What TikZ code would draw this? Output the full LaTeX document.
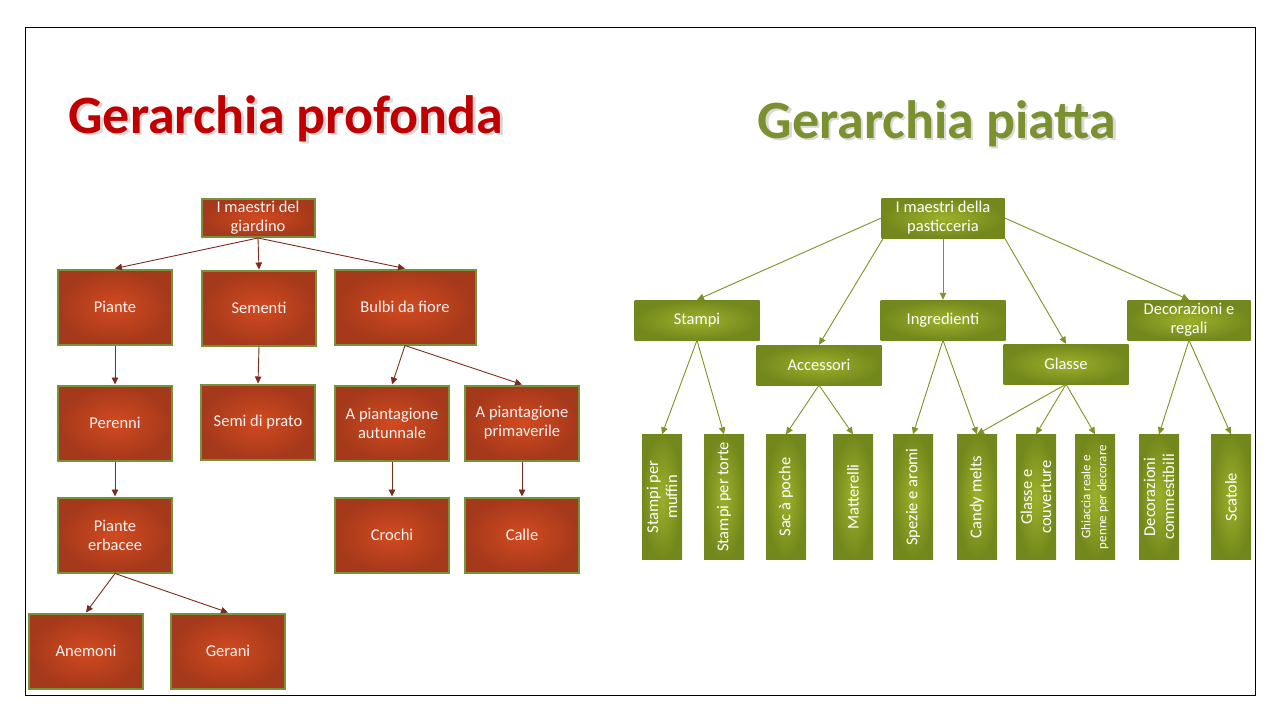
\documentclass[tikz,border=0pt]{standalone}
\usepackage{fontspec}
\setmainfont{Carlito}
\usetikzlibrary{arrows.meta}
\definecolor{redC}{HTML}{D24A20}
\definecolor{redE}{HTML}{A5391B}
\definecolor{olivB}{HTML}{76923C}
\definecolor{grnC}{HTML}{9DB02B}
\definecolor{grnE}{HTML}{73881C}
\definecolor{redL}{HTML}{7B2C1C}
\definecolor{grnL}{HTML}{7F9226}
\definecolor{titleR}{HTML}{C00000}
\definecolor{titleG}{HTML}{7B9130}
\begin{document}
\begin{tikzpicture}[x=1pt,y=-1pt,
 rbox/.style={draw=olivB, line width=2pt, inner color=redC, outer color=redE, text=white!95!black, minimum width=114pt, minimum height=75pt, inner sep=1pt, align=center, font=\fontsize{16.5}{19}\selectfont},
 gbox/.style={inner color=grnC, outer color=grnE, text=white, minimum width=125pt, minimum height=40pt, inner sep=1pt, align=center, font=\fontsize{16.5}{19}\selectfont},
 leaf/.style={gbox, rotate=90, minimum width=125pt, minimum height=40pt},
 rarr/.style={draw=redL, line width=0.9pt, -{Triangle[length=7pt,width=6.5pt]}},
 garr/.style={draw=grnL, line width=0.9pt, -{Triangle[length=7pt,width=6.5pt]}},
 ttl/.style={anchor=base, font=\fontsize{54}{60}\selectfont\bfseries, inner sep=0pt},
]
\useasboundingbox (0,0) rectangle (1280,720);
\fill[white] (0,0) rectangle (1280,720);
\draw[line width=1pt] (25,27) rectangle (1255,695);

% titles
\node[ttl, text=black!15] (t1s) at (288.5,135.5) {Gerarchia profonda};
\node[ttl, text=titleR] (t1) at (286,133) {Gerarchia profonda};
\node[ttl, text=black!15] (t2s) at (939.5,140.5) {Gerarchia piatta};
\node[ttl, text=titleG] (t2) at (937,138) {Gerarchia piatta};

% left tree
\node[rbox, minimum width=113pt, minimum height=38pt] (lroot) at (258,218) {I maestri del\\giardino};
\node[rbox] (piante) at (115,307) {Piante};
\node[rbox] (sementi) at (259,308) {Sementi};
\node[rbox, minimum width=141pt] (bulbi) at (405,307) {Bulbi da fiore};
\node[rbox] (perenni) at (115,423) {Perenni};
\node[rbox] (semi) at (258,422) {Semi di prato};
\node[rbox] (aut) at (392,423) {A piantagione\\autunnale};
\node[rbox] (prim) at (522,423) {A piantagione\\primaverile};
\node[rbox] (erb) at (115,535) {Piante\\erbacee};
\node[rbox] (crochi) at (392,535) {Crochi};
\node[rbox] (calle) at (522,535) {Calle};
\node[rbox] (anem) at (86,651) {Anemoni};
\node[rbox] (gerani) at (228,651) {Gerani};

\draw[rarr] (lroot.south) -- (piante.north);
\draw[rarr] (lroot.south) -- (sementi.north);
\draw[rarr] (lroot.south) -- (bulbi.north);
\draw[rarr] (piante.south) -- (perenni.north);
\draw[rarr] (sementi.south) -- (semi.north);
\draw[rarr] (bulbi.south) -- (aut.north);
\draw[rarr] (bulbi.south) -- (prim.north);
\draw[rarr] (perenni.south) -- (erb.north);
\draw[rarr] (aut.south) -- (crochi.north);
\draw[rarr] (prim.south) -- (calle.north);
\draw[rarr] (erb.south) -- (anem.north);
\draw[rarr] (erb.south) -- (gerani.north);

% right tree
\node[gbox, minimum width=123pt] (rroot) at (943,218) {I maestri della\\pasticceria};
\node[gbox] (stampi) at (697,320) {Stampi};
\node[gbox] (acc) at (819,365) {Accessori};
\node[gbox] (ingr) at (943,320) {Ingredienti};
\node[gbox] (glasse) at (1066,364) {Glasse};
\node[gbox, minimum width=123pt] (deco) at (1189,320) {Decorazioni e\\regali};

\node[leaf] (l1) at (662,497) {Stampi per\\muffin};
\node[leaf] (l2) at (724,497) {Stampi per torte};
\node[leaf] (l3) at (786,497) {Sac à poche};
\node[leaf] (l4) at (853,497) {Matterelli};
\node[leaf] (l5) at (913,497) {Spezie e aromi};
\node[leaf] (l6) at (977,497) {Candy melts};
\node[leaf] (l7) at (1036,497) {Glasse e\\couverture};
\node[leaf, font=\fontsize{13}{16}\selectfont] (l8) at (1095,497) {Ghiaccia reale e\\penne per decorare};
\node[leaf] (l9) at (1159,497) {Decorazioni\\commestibili};
\node[leaf] (l10) at (1231,497) {Scatole};

\draw[garr] (rroot.west) -- (stampi.north);
\draw[garr] ([xshift=2pt]rroot.south west) -- (acc.north);
\draw[garr] (rroot.south) -- (ingr.north);
\draw[garr] (rroot.south east) -- (glasse.north);
\draw[garr] (rroot.east) -- (deco.north);

\draw[garr] (stampi.south) -- (l1.east);
\draw[garr] (stampi.south) -- (l2.east);
\draw[garr] (acc.south) -- (l3.east);
\draw[garr] (acc.south) -- (l4.east);
\draw[garr] (ingr.south) -- (l5.east);
\draw[garr] (ingr.south) -- (l6.east);
\draw[garr] (glasse.south) -- (l6.east);
\draw[garr] (glasse.south) -- (l7.east);
\draw[garr] (glasse.south) -- (l8.east);
\draw[garr] (deco.south) -- (l9.east);
\draw[garr] (deco.south) -- (l10.east);
\end{tikzpicture}
\end{document}
